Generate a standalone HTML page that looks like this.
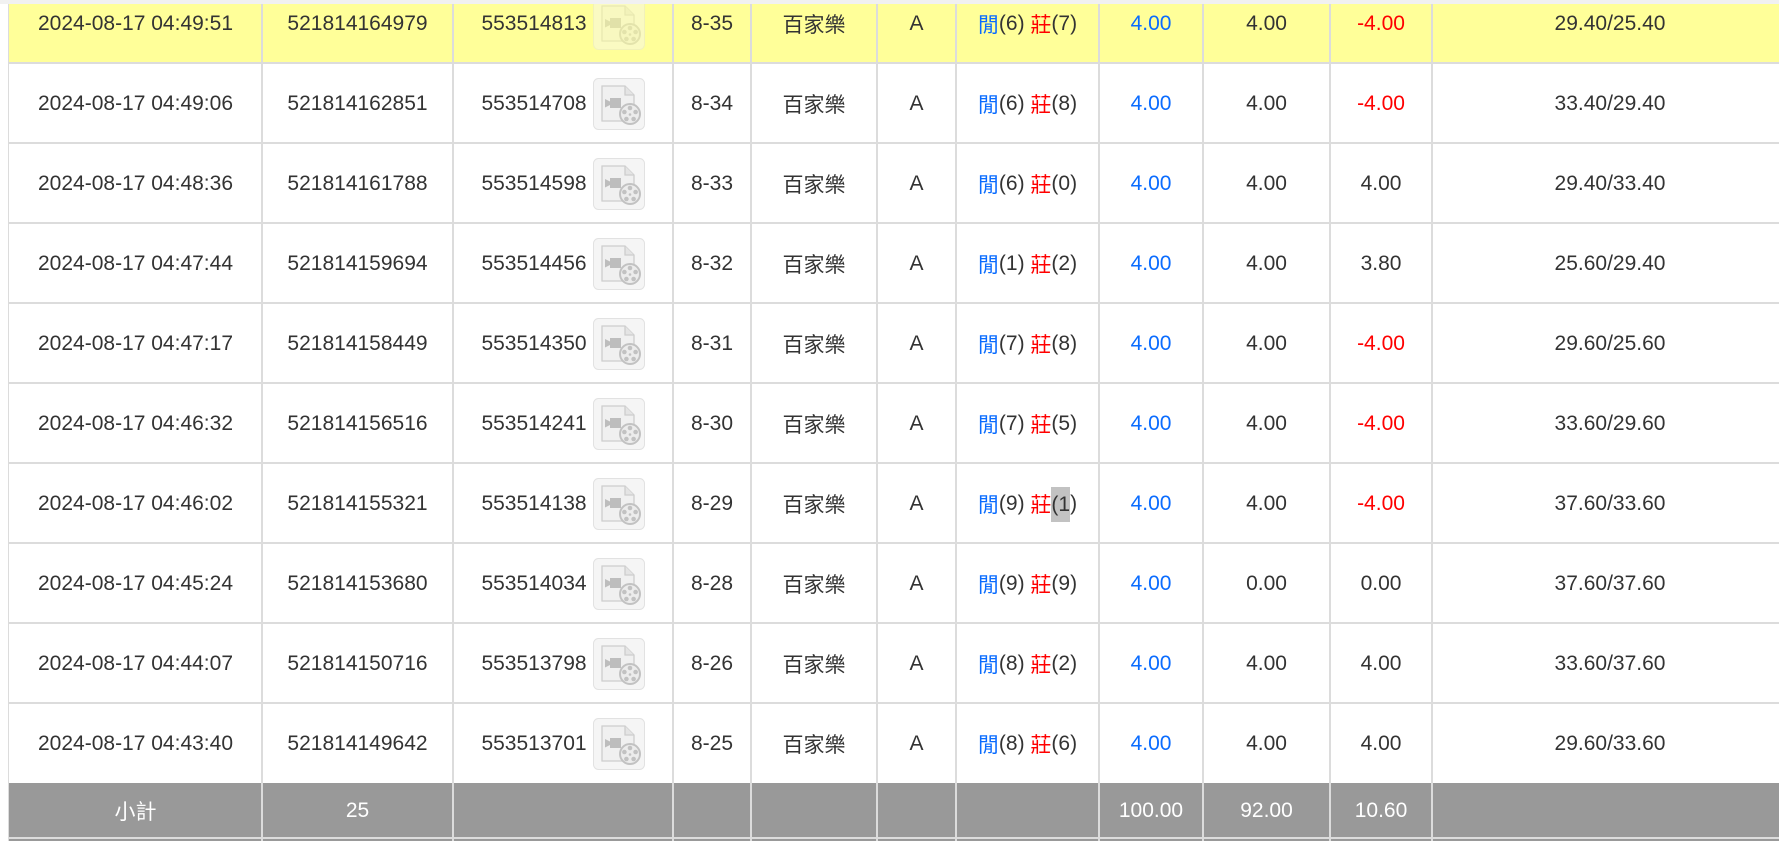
<!DOCTYPE html>
<html>
<head>
<meta charset="utf-8">
<style>
html,body{margin:0;padding:0;}
body{width:1779px;height:841px;overflow:hidden;position:relative;background:#fff;
 font-family:"Liberation Sans","Noto Sans CJK TC",sans-serif;font-size:21px;color:#333;}
.bg{position:absolute;}
.row{position:absolute;left:0;width:1787px;height:78px;}
.c{position:absolute;top:0;height:100%;display:flex;align-items:center;justify-content:center;white-space:nowrap;}
.c1{left:10px;width:251px}
.c2{left:263px;width:189px}
.c3{left:454px;width:218px}
.c4{left:674px;width:76px}
.c5{left:752px;width:124px}
.c6{left:878px;width:77px}
.c7{left:957px;width:141px}
.c8{left:1100px;width:102px}
.c9{left:1204px;width:125px}
.c10{left:1331px;width:100px}
.c11{left:1433px;width:354px}
.b{color:#0a6cff}
.r{color:#ff0000}
.vl{position:absolute;top:4px;width:2px;height:837px;background:#dcdcdc;z-index:5}
.hl{position:absolute;left:8px;width:1780px;height:2px;background:#dcdcdc;z-index:4}
.ic{display:inline-block;width:52px;height:52px;margin-left:6px;vertical-align:middle}
.ic svg{display:block}
.fade{opacity:.45}
.sum{color:#fff}
.sel{display:inline-block;background:#c2c2c2;height:35px;line-height:35px}
</style>
</head>
<body>
<!-- backgrounds -->
<div class="bg" style="left:9px;top:0;width:1778px;height:62px;background:#ffff99"></div>
<div class="bg" style="left:8px;top:783px;width:1780px;height:54px;background:#999"></div>
<div class="bg" style="left:8px;top:837px;width:1780px;height:2px;background:#dcdcdc;z-index:4"></div>
<div class="bg" style="left:8px;top:839px;width:1780px;height:2px;background:#999"></div>
<div class="bg" style="left:0;top:0;width:1779px;height:4px;background:#f1f1f1;z-index:10"></div>

<!-- vertical lines -->
<div class="vl" style="left:8px;width:1px"></div>
<div class="vl" style="left:261px"></div>
<div class="vl" style="left:452px"></div>
<div class="vl" style="left:672px"></div>
<div class="vl" style="left:750px"></div>
<div class="vl" style="left:876px"></div>
<div class="vl" style="left:955px"></div>
<div class="vl" style="left:1098px"></div>
<div class="vl" style="left:1202px"></div>
<div class="vl" style="left:1329px"></div>
<div class="vl" style="left:1431px"></div>

<!-- horizontal lines -->
<div class="hl" style="top:62px"></div>
<div class="hl" style="top:142px"></div>
<div class="hl" style="top:222px"></div>
<div class="hl" style="top:302px"></div>
<div class="hl" style="top:382px"></div>
<div class="hl" style="top:462px"></div>
<div class="hl" style="top:542px"></div>
<div class="hl" style="top:622px"></div>
<div class="hl" style="top:702px"></div>

<!-- row 0 -->
<div class="row" style="top:-15px">
<div class="c c1">2024-08-17 04:49:51</div><div class="c c2">521814164979</div>
<div class="c c3">553514813<span class="ic fade"><svg width="52" height="52" viewBox="0 0 52 52"><rect x="0.5" y="0.5" width="51" height="51" rx="5" fill="#f5f5f5" stroke="#e2e2e2"/><path d="M9 8H32L41 17V43H9Z" fill="#f0f0f0" stroke="#cdcdcd" stroke-width="1.3"/><path d="M32 8V17H41" fill="#e4e4e4" stroke="#cdcdcd" stroke-width="1.3"/><rect x="17" y="20" width="11" height="10" fill="#bdbdbd"/><path d="M12 21L17 23.5V27L12 29.5Z" fill="#bdbdbd"/><circle cx="37" cy="36" r="10" fill="#ececec" stroke="#c2c2c2" stroke-width="2"/><g fill="#c2c2c2"><circle cx="37" cy="30" r="2.3"/><circle cx="42.6" cy="34" r="2.3"/><circle cx="40.6" cy="41" r="2.3"/><circle cx="33.4" cy="41" r="2.3"/><circle cx="31.4" cy="34" r="2.3"/><circle cx="37" cy="36.5" r="1.3"/></g></svg></span></div>
<div class="c c4">8-35</div><div class="c c5">百家樂</div><div class="c c6">A</div>
<div class="c c7"><span class="b">閒</span>(6)&nbsp;<span class="r">莊</span>(7)</div>
<div class="c c8 b">4.00</div><div class="c c9">4.00</div><div class="c c10 r">-4.00</div><div class="c c11">29.40/25.40</div>
</div>

<!-- row 1 -->
<div class="row" style="top:65px">
<div class="c c1">2024-08-17 04:49:06</div><div class="c c2">521814162851</div>
<div class="c c3">553514708<span class="ic"><svg width="52" height="52" viewBox="0 0 52 52"><rect x="0.5" y="0.5" width="51" height="51" rx="5" fill="#f5f5f5" stroke="#e2e2e2"/><path d="M9 8H32L41 17V43H9Z" fill="#f0f0f0" stroke="#cdcdcd" stroke-width="1.3"/><path d="M32 8V17H41" fill="#e4e4e4" stroke="#cdcdcd" stroke-width="1.3"/><rect x="17" y="20" width="11" height="10" fill="#bdbdbd"/><path d="M12 21L17 23.5V27L12 29.5Z" fill="#bdbdbd"/><circle cx="37" cy="36" r="10" fill="#ececec" stroke="#c2c2c2" stroke-width="2"/><g fill="#c2c2c2"><circle cx="37" cy="30" r="2.3"/><circle cx="42.6" cy="34" r="2.3"/><circle cx="40.6" cy="41" r="2.3"/><circle cx="33.4" cy="41" r="2.3"/><circle cx="31.4" cy="34" r="2.3"/><circle cx="37" cy="36.5" r="1.3"/></g></svg></span></div>
<div class="c c4">8-34</div><div class="c c5">百家樂</div><div class="c c6">A</div>
<div class="c c7"><span class="b">閒</span>(6)&nbsp;<span class="r">莊</span>(8)</div>
<div class="c c8 b">4.00</div><div class="c c9">4.00</div><div class="c c10 r">-4.00</div><div class="c c11">33.40/29.40</div>
</div>

<!-- row 2 -->
<div class="row" style="top:145px">
<div class="c c1">2024-08-17 04:48:36</div><div class="c c2">521814161788</div>
<div class="c c3">553514598<span class="ic"><svg width="52" height="52" viewBox="0 0 52 52"><rect x="0.5" y="0.5" width="51" height="51" rx="5" fill="#f5f5f5" stroke="#e2e2e2"/><path d="M9 8H32L41 17V43H9Z" fill="#f0f0f0" stroke="#cdcdcd" stroke-width="1.3"/><path d="M32 8V17H41" fill="#e4e4e4" stroke="#cdcdcd" stroke-width="1.3"/><rect x="17" y="20" width="11" height="10" fill="#bdbdbd"/><path d="M12 21L17 23.5V27L12 29.5Z" fill="#bdbdbd"/><circle cx="37" cy="36" r="10" fill="#ececec" stroke="#c2c2c2" stroke-width="2"/><g fill="#c2c2c2"><circle cx="37" cy="30" r="2.3"/><circle cx="42.6" cy="34" r="2.3"/><circle cx="40.6" cy="41" r="2.3"/><circle cx="33.4" cy="41" r="2.3"/><circle cx="31.4" cy="34" r="2.3"/><circle cx="37" cy="36.5" r="1.3"/></g></svg></span></div>
<div class="c c4">8-33</div><div class="c c5">百家樂</div><div class="c c6">A</div>
<div class="c c7"><span class="b">閒</span>(6)&nbsp;<span class="r">莊</span>(0)</div>
<div class="c c8 b">4.00</div><div class="c c9">4.00</div><div class="c c10">4.00</div><div class="c c11">29.40/33.40</div>
</div>

<!-- row 3 -->
<div class="row" style="top:225px">
<div class="c c1">2024-08-17 04:47:44</div><div class="c c2">521814159694</div>
<div class="c c3">553514456<span class="ic"><svg width="52" height="52" viewBox="0 0 52 52"><rect x="0.5" y="0.5" width="51" height="51" rx="5" fill="#f5f5f5" stroke="#e2e2e2"/><path d="M9 8H32L41 17V43H9Z" fill="#f0f0f0" stroke="#cdcdcd" stroke-width="1.3"/><path d="M32 8V17H41" fill="#e4e4e4" stroke="#cdcdcd" stroke-width="1.3"/><rect x="17" y="20" width="11" height="10" fill="#bdbdbd"/><path d="M12 21L17 23.5V27L12 29.5Z" fill="#bdbdbd"/><circle cx="37" cy="36" r="10" fill="#ececec" stroke="#c2c2c2" stroke-width="2"/><g fill="#c2c2c2"><circle cx="37" cy="30" r="2.3"/><circle cx="42.6" cy="34" r="2.3"/><circle cx="40.6" cy="41" r="2.3"/><circle cx="33.4" cy="41" r="2.3"/><circle cx="31.4" cy="34" r="2.3"/><circle cx="37" cy="36.5" r="1.3"/></g></svg></span></div>
<div class="c c4">8-32</div><div class="c c5">百家樂</div><div class="c c6">A</div>
<div class="c c7"><span class="b">閒</span>(1)&nbsp;<span class="r">莊</span>(2)</div>
<div class="c c8 b">4.00</div><div class="c c9">4.00</div><div class="c c10">3.80</div><div class="c c11">25.60/29.40</div>
</div>

<!-- row 4 -->
<div class="row" style="top:305px">
<div class="c c1">2024-08-17 04:47:17</div><div class="c c2">521814158449</div>
<div class="c c3">553514350<span class="ic"><svg width="52" height="52" viewBox="0 0 52 52"><rect x="0.5" y="0.5" width="51" height="51" rx="5" fill="#f5f5f5" stroke="#e2e2e2"/><path d="M9 8H32L41 17V43H9Z" fill="#f0f0f0" stroke="#cdcdcd" stroke-width="1.3"/><path d="M32 8V17H41" fill="#e4e4e4" stroke="#cdcdcd" stroke-width="1.3"/><rect x="17" y="20" width="11" height="10" fill="#bdbdbd"/><path d="M12 21L17 23.5V27L12 29.5Z" fill="#bdbdbd"/><circle cx="37" cy="36" r="10" fill="#ececec" stroke="#c2c2c2" stroke-width="2"/><g fill="#c2c2c2"><circle cx="37" cy="30" r="2.3"/><circle cx="42.6" cy="34" r="2.3"/><circle cx="40.6" cy="41" r="2.3"/><circle cx="33.4" cy="41" r="2.3"/><circle cx="31.4" cy="34" r="2.3"/><circle cx="37" cy="36.5" r="1.3"/></g></svg></span></div>
<div class="c c4">8-31</div><div class="c c5">百家樂</div><div class="c c6">A</div>
<div class="c c7"><span class="b">閒</span>(7)&nbsp;<span class="r">莊</span>(8)</div>
<div class="c c8 b">4.00</div><div class="c c9">4.00</div><div class="c c10 r">-4.00</div><div class="c c11">29.60/25.60</div>
</div>

<!-- row 5 -->
<div class="row" style="top:385px">
<div class="c c1">2024-08-17 04:46:32</div><div class="c c2">521814156516</div>
<div class="c c3">553514241<span class="ic"><svg width="52" height="52" viewBox="0 0 52 52"><rect x="0.5" y="0.5" width="51" height="51" rx="5" fill="#f5f5f5" stroke="#e2e2e2"/><path d="M9 8H32L41 17V43H9Z" fill="#f0f0f0" stroke="#cdcdcd" stroke-width="1.3"/><path d="M32 8V17H41" fill="#e4e4e4" stroke="#cdcdcd" stroke-width="1.3"/><rect x="17" y="20" width="11" height="10" fill="#bdbdbd"/><path d="M12 21L17 23.5V27L12 29.5Z" fill="#bdbdbd"/><circle cx="37" cy="36" r="10" fill="#ececec" stroke="#c2c2c2" stroke-width="2"/><g fill="#c2c2c2"><circle cx="37" cy="30" r="2.3"/><circle cx="42.6" cy="34" r="2.3"/><circle cx="40.6" cy="41" r="2.3"/><circle cx="33.4" cy="41" r="2.3"/><circle cx="31.4" cy="34" r="2.3"/><circle cx="37" cy="36.5" r="1.3"/></g></svg></span></div>
<div class="c c4">8-30</div><div class="c c5">百家樂</div><div class="c c6">A</div>
<div class="c c7"><span class="b">閒</span>(7)&nbsp;<span class="r">莊</span>(5)</div>
<div class="c c8 b">4.00</div><div class="c c9">4.00</div><div class="c c10 r">-4.00</div><div class="c c11">33.60/29.60</div>
</div>

<!-- row 6 -->
<div class="row" style="top:465px">
<div class="c c1">2024-08-17 04:46:02</div><div class="c c2">521814155321</div>
<div class="c c3">553514138<span class="ic"><svg width="52" height="52" viewBox="0 0 52 52"><rect x="0.5" y="0.5" width="51" height="51" rx="5" fill="#f5f5f5" stroke="#e2e2e2"/><path d="M9 8H32L41 17V43H9Z" fill="#f0f0f0" stroke="#cdcdcd" stroke-width="1.3"/><path d="M32 8V17H41" fill="#e4e4e4" stroke="#cdcdcd" stroke-width="1.3"/><rect x="17" y="20" width="11" height="10" fill="#bdbdbd"/><path d="M12 21L17 23.5V27L12 29.5Z" fill="#bdbdbd"/><circle cx="37" cy="36" r="10" fill="#ececec" stroke="#c2c2c2" stroke-width="2"/><g fill="#c2c2c2"><circle cx="37" cy="30" r="2.3"/><circle cx="42.6" cy="34" r="2.3"/><circle cx="40.6" cy="41" r="2.3"/><circle cx="33.4" cy="41" r="2.3"/><circle cx="31.4" cy="34" r="2.3"/><circle cx="37" cy="36.5" r="1.3"/></g></svg></span></div>
<div class="c c4">8-29</div><div class="c c5">百家樂</div><div class="c c6">A</div>
<div class="c c7"><span class="b">閒</span>(9)&nbsp;<span class="r">莊</span><span class="sel">(1</span>)</div>
<div class="c c8 b">4.00</div><div class="c c9">4.00</div><div class="c c10 r">-4.00</div><div class="c c11">37.60/33.60</div>
</div>

<!-- row 7 -->
<div class="row" style="top:545px">
<div class="c c1">2024-08-17 04:45:24</div><div class="c c2">521814153680</div>
<div class="c c3">553514034<span class="ic"><svg width="52" height="52" viewBox="0 0 52 52"><rect x="0.5" y="0.5" width="51" height="51" rx="5" fill="#f5f5f5" stroke="#e2e2e2"/><path d="M9 8H32L41 17V43H9Z" fill="#f0f0f0" stroke="#cdcdcd" stroke-width="1.3"/><path d="M32 8V17H41" fill="#e4e4e4" stroke="#cdcdcd" stroke-width="1.3"/><rect x="17" y="20" width="11" height="10" fill="#bdbdbd"/><path d="M12 21L17 23.5V27L12 29.5Z" fill="#bdbdbd"/><circle cx="37" cy="36" r="10" fill="#ececec" stroke="#c2c2c2" stroke-width="2"/><g fill="#c2c2c2"><circle cx="37" cy="30" r="2.3"/><circle cx="42.6" cy="34" r="2.3"/><circle cx="40.6" cy="41" r="2.3"/><circle cx="33.4" cy="41" r="2.3"/><circle cx="31.4" cy="34" r="2.3"/><circle cx="37" cy="36.5" r="1.3"/></g></svg></span></div>
<div class="c c4">8-28</div><div class="c c5">百家樂</div><div class="c c6">A</div>
<div class="c c7"><span class="b">閒</span>(9)&nbsp;<span class="r">莊</span>(9)</div>
<div class="c c8 b">4.00</div><div class="c c9">0.00</div><div class="c c10">0.00</div><div class="c c11">37.60/37.60</div>
</div>

<!-- row 8 -->
<div class="row" style="top:625px">
<div class="c c1">2024-08-17 04:44:07</div><div class="c c2">521814150716</div>
<div class="c c3">553513798<span class="ic"><svg width="52" height="52" viewBox="0 0 52 52"><rect x="0.5" y="0.5" width="51" height="51" rx="5" fill="#f5f5f5" stroke="#e2e2e2"/><path d="M9 8H32L41 17V43H9Z" fill="#f0f0f0" stroke="#cdcdcd" stroke-width="1.3"/><path d="M32 8V17H41" fill="#e4e4e4" stroke="#cdcdcd" stroke-width="1.3"/><rect x="17" y="20" width="11" height="10" fill="#bdbdbd"/><path d="M12 21L17 23.5V27L12 29.5Z" fill="#bdbdbd"/><circle cx="37" cy="36" r="10" fill="#ececec" stroke="#c2c2c2" stroke-width="2"/><g fill="#c2c2c2"><circle cx="37" cy="30" r="2.3"/><circle cx="42.6" cy="34" r="2.3"/><circle cx="40.6" cy="41" r="2.3"/><circle cx="33.4" cy="41" r="2.3"/><circle cx="31.4" cy="34" r="2.3"/><circle cx="37" cy="36.5" r="1.3"/></g></svg></span></div>
<div class="c c4">8-26</div><div class="c c5">百家樂</div><div class="c c6">A</div>
<div class="c c7"><span class="b">閒</span>(8)&nbsp;<span class="r">莊</span>(2)</div>
<div class="c c8 b">4.00</div><div class="c c9">4.00</div><div class="c c10">4.00</div><div class="c c11">33.60/37.60</div>
</div>

<!-- row 9 -->
<div class="row" style="top:705px">
<div class="c c1">2024-08-17 04:43:40</div><div class="c c2">521814149642</div>
<div class="c c3">553513701<span class="ic"><svg width="52" height="52" viewBox="0 0 52 52"><rect x="0.5" y="0.5" width="51" height="51" rx="5" fill="#f5f5f5" stroke="#e2e2e2"/><path d="M9 8H32L41 17V43H9Z" fill="#f0f0f0" stroke="#cdcdcd" stroke-width="1.3"/><path d="M32 8V17H41" fill="#e4e4e4" stroke="#cdcdcd" stroke-width="1.3"/><rect x="17" y="20" width="11" height="10" fill="#bdbdbd"/><path d="M12 21L17 23.5V27L12 29.5Z" fill="#bdbdbd"/><circle cx="37" cy="36" r="10" fill="#ececec" stroke="#c2c2c2" stroke-width="2"/><g fill="#c2c2c2"><circle cx="37" cy="30" r="2.3"/><circle cx="42.6" cy="34" r="2.3"/><circle cx="40.6" cy="41" r="2.3"/><circle cx="33.4" cy="41" r="2.3"/><circle cx="31.4" cy="34" r="2.3"/><circle cx="37" cy="36.5" r="1.3"/></g></svg></span></div>
<div class="c c4">8-25</div><div class="c c5">百家樂</div><div class="c c6">A</div>
<div class="c c7"><span class="b">閒</span>(8)&nbsp;<span class="r">莊</span>(6)</div>
<div class="c c8 b">4.00</div><div class="c c9">4.00</div><div class="c c10">4.00</div><div class="c c11">29.60/33.60</div>
</div>

<!-- subtotal row -->
<div class="row sum" style="top:784px;height:54px">
<div class="c c1">小計</div><div class="c c2">25</div>
<div class="c c8">100.00</div><div class="c c9">92.00</div><div class="c c10">10.60</div>
</div>
</body>
</html>
